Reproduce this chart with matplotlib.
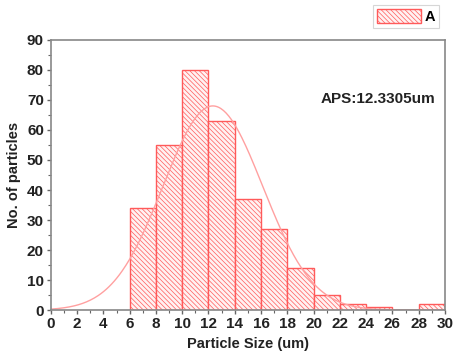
import numpy as np
import matplotlib
matplotlib.use("Agg")
import matplotlib.pyplot as plt
from matplotlib.ticker import MultipleLocator

# histogram data (bin edges in um, counts per bin)
bin_edges = [6, 8, 10, 12, 14, 16, 18, 20, 22, 24, 26, 28, 30]
counts = [34, 55, 80, 63, 37, 27, 14, 5, 2, 1, 0, 2]

# gaussian fit parameters
fit_mean = 12.3305
fit_sigma = 3.8
fit_amp = 68

plt.rcParams['font.family'] = ['Liberation Sans', 'DejaVu Sans']
plt.rcParams['hatch.linewidth'] = 0.5
plt.rcParams['hatch.color'] = '#ff7070'

fig = plt.figure(figsize=(4.54, 3.59), dpi=100)
ax = fig.add_axes([0.112, 0.136, 0.868, 0.753])

lefts = np.array(bin_edges[:-1])
widths = np.diff(bin_edges)
bars = ax.bar(lefts, counts, width=widths, align='edge', facecolor='#fff2f2',
              edgecolor='#ff5a5a', linewidth=1.0, hatch='\\\\\\\\\\\\\\', label='A')

xs = np.linspace(0, 30, 300)
ys = fit_amp * np.exp(-(xs - fit_mean) ** 2 / (2 * fit_sigma ** 2))
ax.plot(xs, ys, color='#ffa0a0', linewidth=1.0)

ax.set_xlim(0, 30)
ax.set_ylim(0, 90)
ax.xaxis.set_major_locator(MultipleLocator(2))
ax.xaxis.set_minor_locator(MultipleLocator(1))
ax.yaxis.set_major_locator(MultipleLocator(10))
ax.yaxis.set_minor_locator(MultipleLocator(5))
ax.tick_params(which='major', direction='out', length=3, width=1, color='#666666',
               labelsize=11, pad=2)
ax.tick_params(which='minor', direction='out', length=2, width=0.8, color='#666666')
for lbl in ax.get_xticklabels() + ax.get_yticklabels():
    lbl.set_fontweight('bold')
    lbl.set_color('#222222')
for sp in ax.spines.values():
    sp.set_color('#888888')
    sp.set_linewidth(1.2)

ax.set_xlabel('Particle Size (um)', fontsize=10.5, fontweight='bold', color='#222222', labelpad=4)
ax.set_ylabel('No. of particles', fontsize=10.5, fontweight='bold', color='#222222', labelpad=4)

ax.text(0.975, 0.78, 'APS:12.3305um', transform=ax.transAxes, ha='right', va='center',
        fontsize=11, fontweight='bold', color='#222222')

leg = fig.legend(handles=[bars], labels=['A'], loc='upper left',
                 bbox_to_anchor=(0.822, 0.985), fontsize=10.5, frameon=True,
                 fancybox=False, handlelength=3.0, handleheight=1.1,
                 borderpad=0.25, handletextpad=0.3, borderaxespad=0)
leg.get_frame().set_edgecolor('#cccccc')
leg.get_frame().set_linewidth(0.8)
for t in leg.get_texts():
    t.set_fontweight('bold')

fig.savefig('out.png', dpi=100)
